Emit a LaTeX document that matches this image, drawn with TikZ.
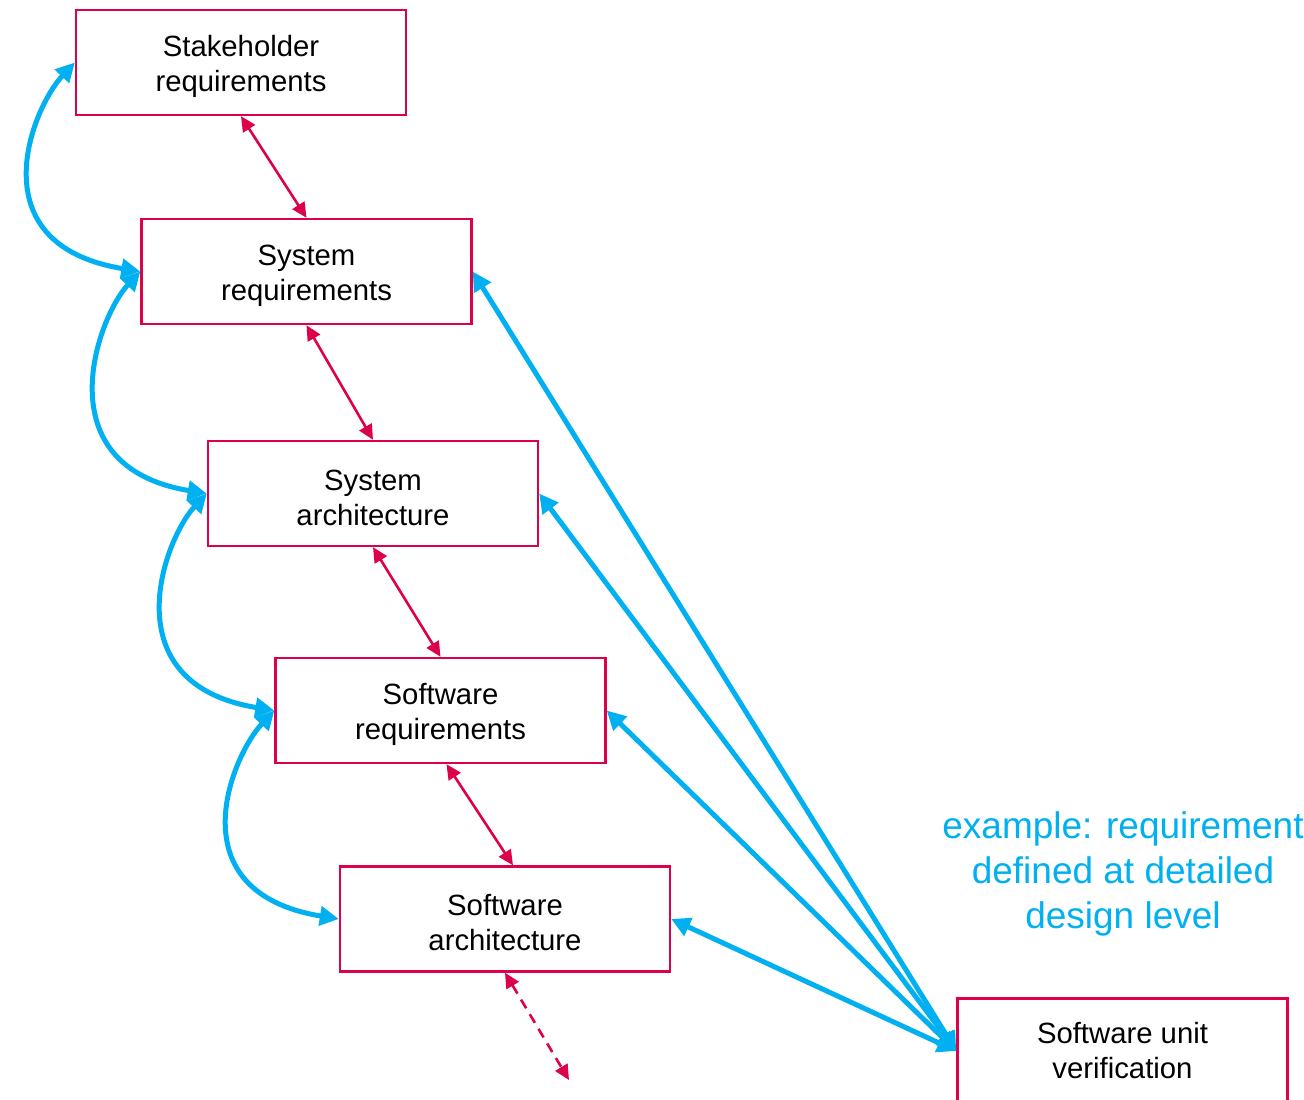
\documentclass[tikz,border=0pt]{standalone}
\usepackage{fontspec}
\setmainfont{Liberation Sans}
\usetikzlibrary{arrows.meta}

\definecolor{tracered}{RGB}{221,0,75}
\definecolor{verifblue}{RGB}{0,176,240}

% taller first line pushes the two text lines a little lower in the box
\newcommand{\firstline}{\rule{0pt}{29pt}}

\tikzset{
  stagebox/.style={draw=tracered, line width=2.4pt, fill=white,
    minimum width=330pt, minimum height=105pt, inner sep=0pt,
    align=center, font=\fontsize{29.3}{35}\selectfont},
  tracelink/.style={draw=tracered, line width=2.6pt,
    {Triangle[length=15pt,width=14pt]}-{Triangle[length=15pt,width=14pt]}},
  verifylink/.style={draw=verifblue, line width=5pt,
    {Triangle[length=19pt,width=19pt]}-{Triangle[length=19pt,width=19pt]}},
  notetext/.style={text=verifblue, align=center,
    font=\fontsize{37}{45}\selectfont}
}

\begin{document}
\begin{tikzpicture}[x=1pt,y=-1pt]
  \useasboundingbox (0,0) rectangle (1304,1100);

  % development stages
  \node[stagebox] (stk)  at (241,62.5)    {\firstline Stakeholder\\requirements};
  \node[stagebox] (sysr) at (306.5,271.5) {\firstline System\\requirements};
  \node[stagebox] (sysa) at (373,493.5)   {\firstline System\\architecture};
  \node[stagebox] (swr)  at (440.5,710.5) {\firstline Software\\requirements};
  \node[stagebox] (swa)  at (505,919)     {\firstline Software\\architecture};
  \node[stagebox] (unit) at (1122.5,1051) {Software unit\\verification};

  \node[notetext] (note) at (1123,874) {example: requirement\\defined at detailed\\design level};

  % traceability between neighbouring stages
  \draw[tracelink] (stk.south) -- (sysr.north);
  \draw[tracelink] (sysr.south) -- (sysa.north);
  \draw[tracelink] (sysa.south) -- (swr.north);
  \draw[tracelink] ([xshift=6pt]swr.south) -- ([xshift=8pt]swa.north);
  \coordinate (below) at (569,1080);
  \draw[tracelink, dashed, dash pattern=on 10pt off 7pt] (swa.south) -- (below);

  % consistency arcs on the left
  \draw[verifylink] (stk.west)  .. controls +(-43,46) and +(-164,-27) .. (sysr.west);
  \draw[verifylink] (sysr.west) .. controls +(-43,46) and +(-164,-27) .. (sysa.west);
  \draw[verifylink] (sysa.west) .. controls +(-43,46) and +(-164,-27) .. (swr.west);
  \draw[verifylink] (swr.west)  .. controls +(-43,46) and +(-164,-27) .. (swa.west);

  % unit verification links
  \draw[verifylink] (unit.west) -- (sysr.east);
  \draw[verifylink] (unit.west) -- (sysa.east);
  \draw[verifylink] (unit.west) -- (swr.east);
  \draw[verifylink] (unit.west) -- (swa.east);
\end{tikzpicture}
\end{document}
